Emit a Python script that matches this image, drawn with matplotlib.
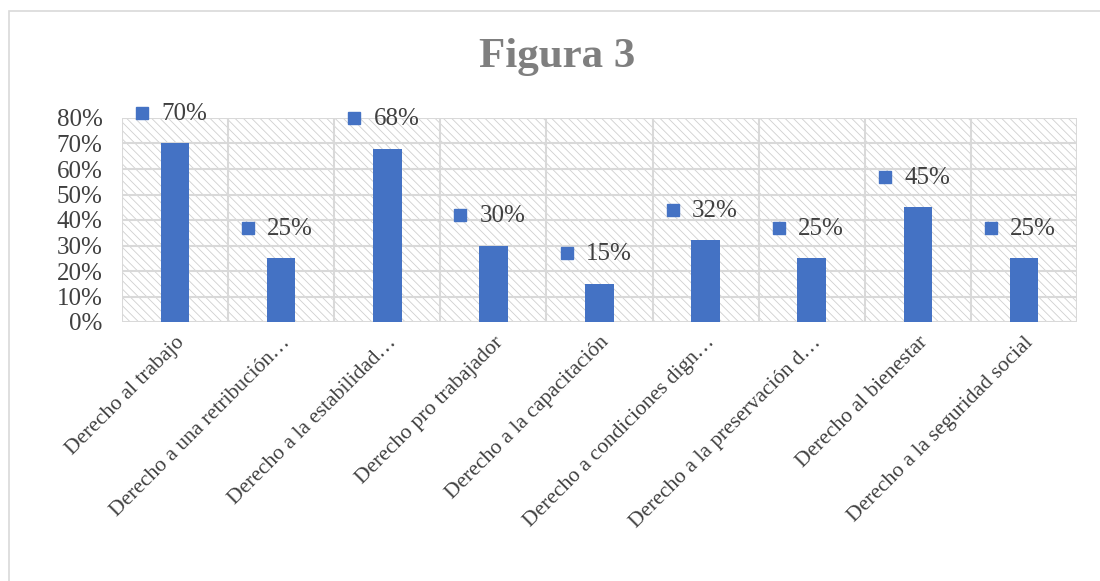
import matplotlib.pyplot as plt
from matplotlib.patches import Rectangle
import numpy as np

plt.rcParams['font.family'] = ['Liberation Serif', 'DejaVu Serif']
plt.rcParams['hatch.color'] = '#d0d0d0'
plt.rcParams['hatch.linewidth'] = 0.6

categorias = [
    "Derecho al trabajo",
    "Derecho a una retribución…",
    "Derecho a la estabilidad…",
    "Derecho pro trabajador",
    "Derecho a la capacitación",
    "Derecho a condiciones dign…",
    "Derecho a la preservación d…",
    "Derecho al bienestar",
    "Derecho a la seguridad social",
]
valores = [70, 25, 68, 30, 15, 32, 25, 45, 25]
ticks_y = [0, 10, 20, 30, 40, 50, 60, 70, 80]

azul = '#4472C4'
gris_txt = '#404040'

fig = plt.figure(figsize=(11, 5.81), dpi=100)
# marco del grafico
fig.patches.append(Rectangle((9 / 1100, -0.1), 1.2, 1 - 11 / 581 + 0.1,
                             transform=fig.transFigure, fill=False,
                             edgecolor='#d9d9d9', linewidth=1.2))

ax = fig.add_axes([122 / 1100, 1 - 322 / 581, (1077 - 122) / 1100, (322 - 118) / 581])
n = len(categorias)
x = np.arange(n)

# fondo rayado
ax.add_patch(Rectangle((-0.5, 0), n, 80, facecolor='white', hatch='\\\\\\\\',
                       edgecolor='#d0d0d0', linewidth=0, zorder=0))

ax.bar(x, valores, width=0.27, color=azul, zorder=3)

for xi, v in zip(x, valores):
    ax.plot(xi - 0.31, v + 12, marker='s', markersize=9, color=azul,
            linestyle='none', zorder=4, clip_on=False)
    ax.text(xi - 0.13, v + 11.5, f"{v}%", ha='left', va='center', fontsize=18,
            color=gris_txt, zorder=4, clip_on=False)

ax.set_xlim(-0.5, n - 0.5)
ax.set_ylim(0, 80)
ax.set_yticks(ticks_y)
ax.set_yticklabels([f"{t}%" for t in ticks_y], fontsize=18, color=gris_txt)
for t in ticks_y:
    ax.axhline(t, color='#d9d9d9', linewidth=1.5, zorder=1)
for b in np.arange(-0.5, n, 1):
    ax.axvline(b, color='#d9d9d9', linewidth=1.5, zorder=1)

ax.set_xticks(x)
ax.set_xticklabels(categorias, rotation=45, ha='right', va='top',
                   rotation_mode='anchor', fontsize=15.5, color=gris_txt)
ax.tick_params(axis='both', length=0)
ax.tick_params(axis='y', pad=14)
ax.tick_params(axis='x', pad=8)
for s in ax.spines.values():
    s.set_visible(False)

fig.text(557 / 1100, 1 - 57 / 581, "Figura 3", ha='center', va='center',
         fontsize=31, fontweight='bold', color='#7f7f7f')

fig.savefig('out.png', dpi=100)
